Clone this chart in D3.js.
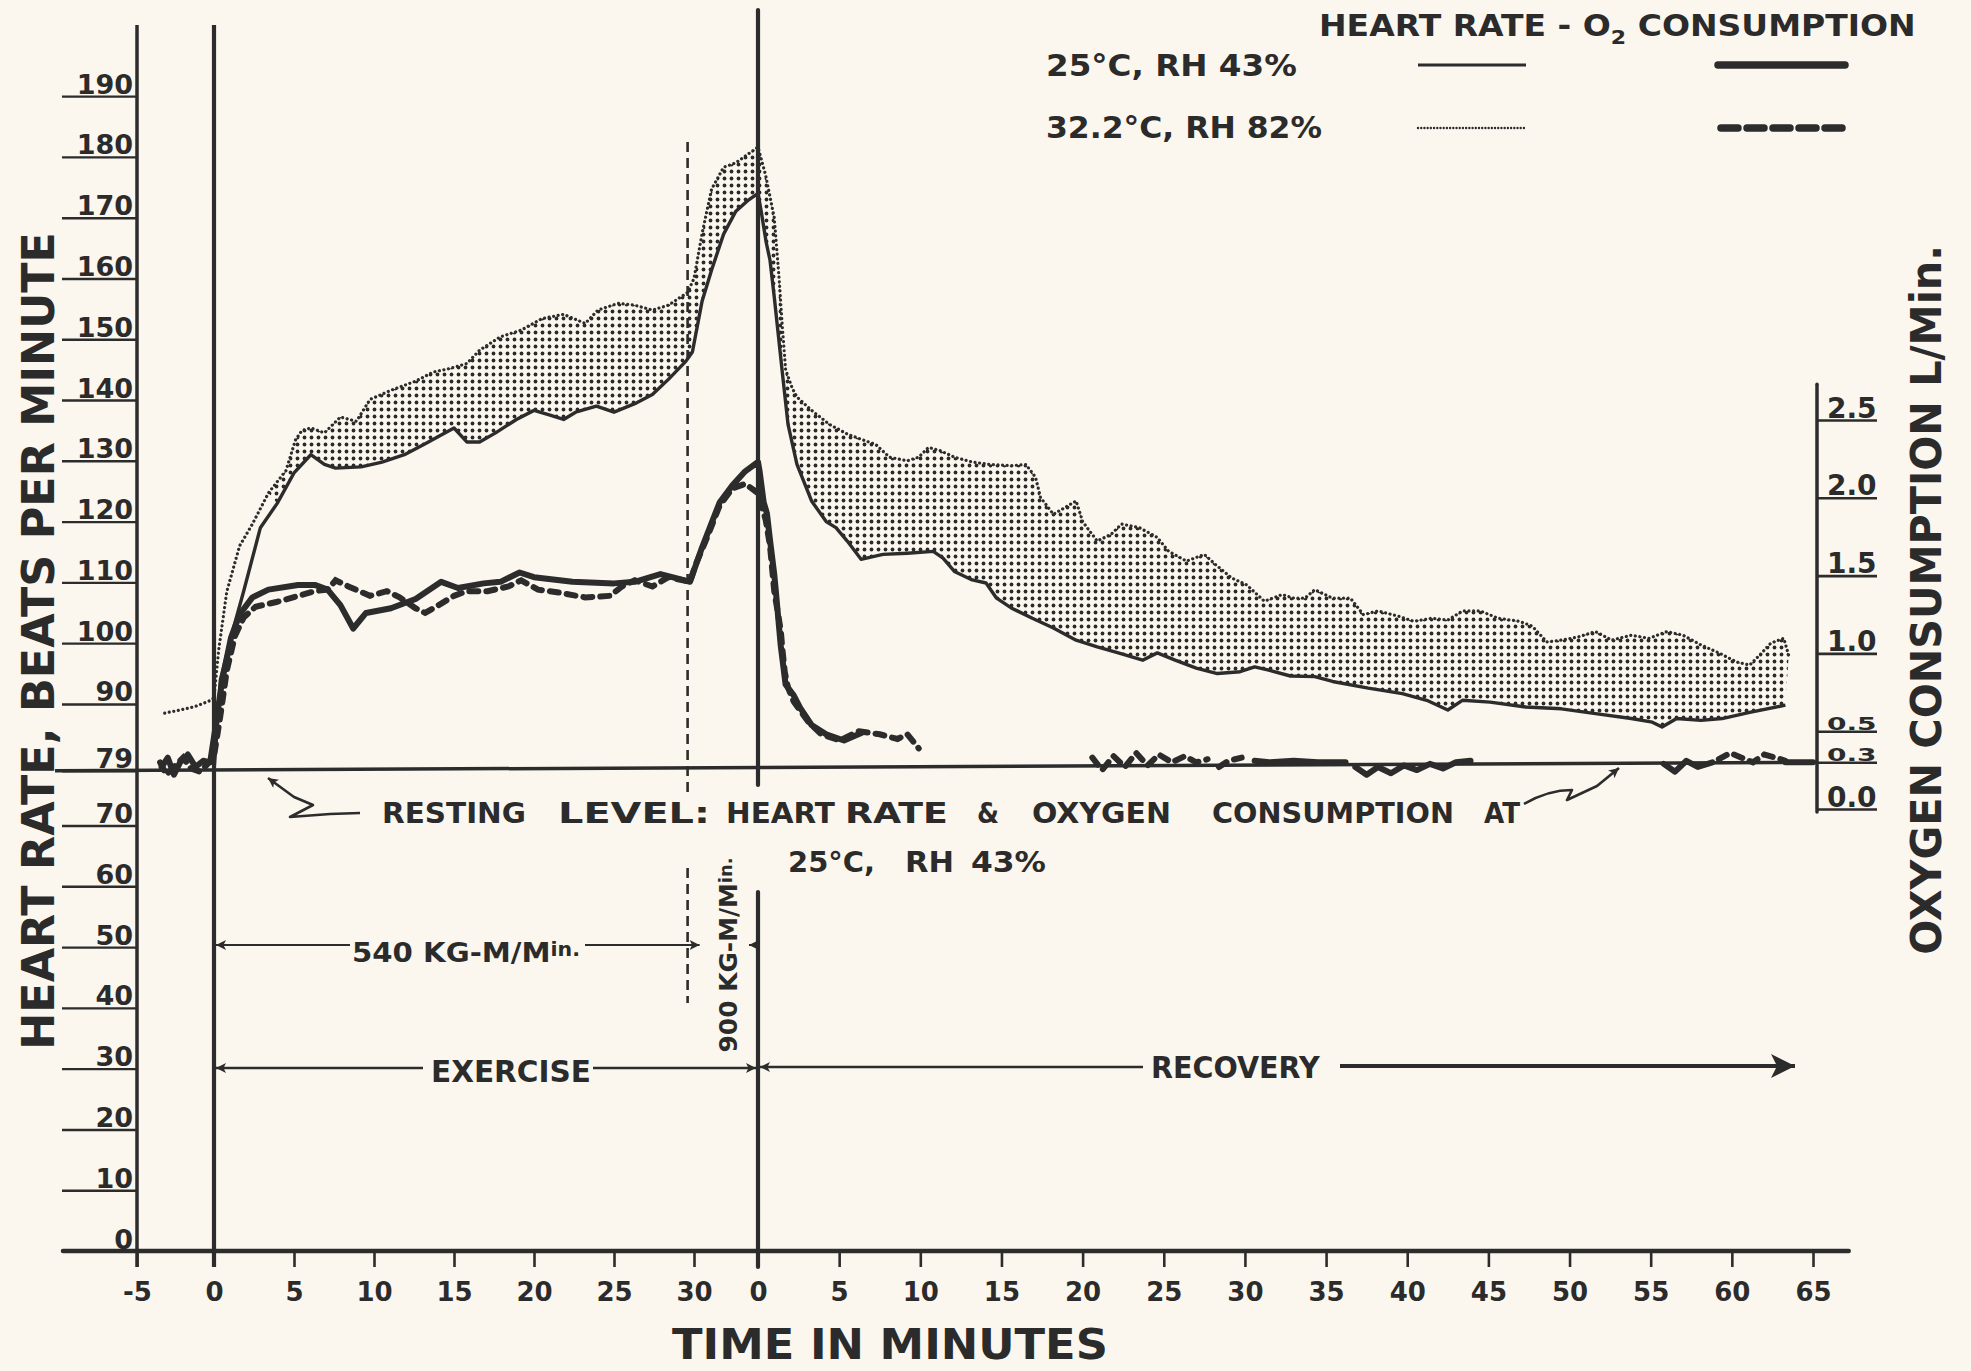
<!DOCTYPE html>
<html>
<head>
<meta charset="utf-8">
<script src="https://cdn.jsdelivr.net/npm/d3@7"></script>
<style>
  html, body { margin: 0; padding: 0; background: #fbf7ee; }
  svg { display: block; }
  text { fill: #2b2b2b; font-family: "DejaVu Sans", "Liberation Sans", sans-serif; font-weight: bold; }
</style>
</head>
<body>
<svg id="chart" width="1971" height="1371"></svg>
<script>
// ---- time layout: exercise minutes run 0..34, recovery minute r sits at 34 + r ----
const REC0 = 34;          // start of recovery on the elapsed-time scale
const LOAD_CHANGE = 29.6; // switch from 540 to 900 KG-M/Min.

// ---- tick values ----
const hrTicks = [0, 10, 20, 30, 40, 50, 60, 70, 79, 90, 100, 110, 120, 130, 140, 150, 160, 170, 180, 190];
const o2Ticks = [0, 0.3, 0.5, 1.0, 1.5, 2.0, 2.5];
const exerciseTicks = [-5, 0, 5, 10, 15, 20, 25, 30];
const recoveryTicks = [0, 5, 10, 15, 20, 25, 30, 35, 40, 45, 50, 55, 60, 65];

// ---- heart rate, 25°C RH 43% (beats/min) : [minute, value] ----
const hr25Exercise = [[0,79],[0.2,86],[0.4,94],[1.06,101],[1.85,108.5],[2.9,119],[3.95,123],[5,128],[6.05,131],[6.9,129.4],[7.6,128.8],[9.2,129],[10.5,129.8],[11.9,131],[13.2,132.8],[15,135.4],[15.8,133.1],[16.6,133.1],[17.6,134.6],[18.9,136.8],[20,138.3],[21,137.5],[21.85,136.8],[22.6,138],[23.9,139],[25,138],[26.3,139.4],[27.4,140.9],[28.4,143.4],[29.5,146.4],[29.9,147.9],[30.5,156.2],[31.1,161.4],[31.85,167.3],[32.6,171],[33.4,172.9],[34,174]];
const hr25Recovery = [[0,174],[0.2,171],[0.5,166],[0.74,163],[1.0,157],[1.2,152],[1.5,144.5],[1.85,136],[2.4,129.4],[3.3,123.4],[4.2,120],[4.8,119],[5.5,116.8],[6.35,113.8],[7.7,114.6],[9.2,114.8],[10.8,115.1],[11.4,114],[12.1,111.8],[13.2,110.4],[14.05,109.9],[14.7,107.4],[15.6,105.8],[16.9,104.1],[18.2,102.5],[19.6,100.5],[20.9,99.4],[22.2,98.4],[23.7,97.2],[24.6,98.4],[25.7,97.2],[27,95.9],[28.3,95],[29.7,95.3],[30.6,96.1],[31.4,95.6],[32.8,94.6],[34.3,94.5],[35.4,93.7],[37.6,92.6],[39.7,91.7],[41.2,90.6],[42.5,89],[43.4,90.6],[45.1,90.3],[47.3,89.5],[49.5,89.2],[51.6,88.4],[53.8,87.6],[55.1,87],[55.7,86.2],[56.6,87.6],[58.1,87.3],[59.4,87.6],[61.1,88.6],[63.3,89.8]];

// ---- heart rate, 32.2°C RH 82% ----
const hr32Exercise = [[-3.2,88.5],[-2.2,89],[-1.2,89.6],[-0.3,90.5],[0,91],[0.15,95],[0.3,99],[0.8,108.5],[1.6,116],[2.4,119.6],[3.4,124.7],[4.5,128.4],[5.1,133.5],[5.5,135],[6.06,135.4],[6.9,134.6],[7.9,137.2],[8.9,136.5],[9.75,140.1],[11.06,141.6],[12.6,143.1],[13.7,144.6],[14.75,145.2],[15.8,146],[16.6,148.2],[17.9,150.4],[19.2,151.5],[20.5,153.4],[21.85,154.1],[23.2,152.6],[24,154.8],[25.25,155.9],[26.3,155.6],[27.4,154.8],[28.4,155.6],[29.6,157.7],[30,160],[30.5,167.3],[31.1,174.7],[31.85,178.3],[32.6,179],[33.4,180.5],[34,181.6]];
const hr32Recovery = [[0,181.6],[0.47,177],[1.0,170],[1.3,160],[1.5,152],[1.7,145],[2.1,142],[2.4,140.5],[3.3,138.3],[4.4,136],[5.5,134.4],[6.6,133.3],[7.25,132.7],[8.1,130.6],[9.2,130],[9.9,130.6],[10.5,132.2],[11.2,131.7],[12.1,130.6],[13.2,129.8],[14.3,129.4],[15.6,129.2],[16.5,129.4],[17.1,127.3],[17.4,124],[18.2,121.2],[18.9,122.3],[19.6,123.4],[20,120],[20.9,116.8],[21.75,117.9],[22.4,119.6],[23.5,119],[24.6,117.4],[25.3,115.1],[26.4,113.5],[27.5,114.6],[28.2,112.9],[29.2,110.7],[30.1,109.6],[31.2,106.9],[32.3,108],[33,107.4],[33.7,107.4],[34.3,108.8],[35.4,107.4],[36.5,107.4],[37.3,104.7],[38.2,105.3],[39.5,104.4],[40.4,103.6],[41.5,104.1],[42.5,103.8],[43.4,105.3],[44.5,105.3],[45.6,104.1],[46.9,103.6],[47.7,102.8],[48.6,100.2],[49.5,100.5],[50.5,101],[51.6,101.9],[52.6,100.5],[53.8,101.3],[54.9,100.8],[56,101.9],[57,101.3],[58.1,99.7],[59.2,98.4],[60.3,96.9],[61.1,96.4],[61.7,98],[62.4,100],[63.2,100.8],[63.5,98]];

// ---- oxygen consumption, 25°C RH 43% (L/min) ----
const o2_25Exercise = [[-3.4,0.27],[-3.0,0.33],[-2.6,0.22],[-2.2,0.30],[-1.7,0.35],[-1.2,0.27],[-0.7,0.31],[-0.25,0.30],[0.1,0.53],[0.5,0.82],[1.06,1.10],[1.6,1.25],[2.4,1.36],[3.4,1.41],[5.25,1.44],[6.3,1.44],[7.1,1.41],[7.9,1.31],[8.7,1.16],[9.5,1.26],[11.06,1.29],[12.6,1.35],[14.2,1.46],[15.25,1.42],[16.85,1.45],[17.9,1.46],[19.1,1.52],[20,1.49],[22.4,1.46],[25,1.45],[26.3,1.46],[27.9,1.51],[29,1.48],[29.75,1.46],[30.5,1.68],[31.6,1.97],[32.4,2.08],[33.2,2.17],[34,2.23]];
const o2_25Recovery = [[0.1,2.17],[0.35,1.97],[0.55,1.90],[0.75,1.72],[1.0,1.51],[1.1,1.40],[1.4,1.05],[1.7,0.80],[2.2,0.73],[2.6,0.65],[3.3,0.54],[4.2,0.48],[5.3,0.44],[6.4,0.49]];
const o2_25Late = [
  [[30.6,0.31],[31.5,0.30],[33,0.31],[34.5,0.30],[36.2,0.30]],
  [[36.8,0.27],[37.5,0.22],[38.2,0.27],[39,0.23],[39.8,0.28],[40.6,0.25],[41.4,0.29],[42.2,0.26],[43,0.30],[43.9,0.31]],
  [[55.8,0.29],[56.5,0.24],[57.2,0.31],[57.9,0.27],[58.8,0.30]],
  [[63.3,0.30],[65,0.30]]
];

// ---- oxygen consumption, 32.2°C RH 82% ----
const o2_32Exercise = [[-3.5,0.30],[-3.1,0.22],[-2.6,0.27],[-2.0,0.33],[-1.5,0.26],[-0.9,0.24],[-0.4,0.29],[0,0.34],[0.4,0.60],[0.8,0.89],[1.3,1.11],[1.85,1.23],[2.6,1.30],[3.9,1.33],[5.3,1.37],[6.3,1.40],[7.1,1.41],[7.6,1.47],[8.4,1.43],[9.75,1.37],[10.8,1.40],[11.6,1.36],[12.6,1.29],[13.2,1.26],[14.2,1.32],[15,1.37],[15.8,1.40],[17.1,1.40],[18.4,1.43],[19.2,1.47],[20.25,1.41],[21.6,1.39],[23.2,1.36],[24.75,1.37],[25.5,1.43],[26.3,1.47],[27.4,1.43],[28.4,1.49],[29.75,1.46],[30.1,1.57],[30.8,1.74],[31.6,1.95],[32.4,2.06],[33.2,2.09],[34,2.03]];
const o2_32Recovery = [[0.47,1.86],[0.74,1.69],[1.0,1.40],[1.4,1.15],[1.5,1.03],[1.65,0.88],[1.85,0.78],[2.2,0.69],[3.1,0.56],[3.9,0.48],[5.05,0.44],[6.2,0.50],[7.5,0.48],[8.6,0.45],[9.2,0.48],[9.9,0.39]];
const o2_32Late = [
  [[20.6,0.33],[21.2,0.25],[21.9,0.34],[22.6,0.27],[23.3,0.36],[24.0,0.28],[24.7,0.35],[25.5,0.30],[26.3,0.34],[27.0,0.30],[27.7,0.32]],
  [[28.4,0.27],[29.0,0.31],[29.8,0.33]],
  [[59.2,0.32],[59.9,0.36],[60.6,0.33],[61.3,0.30],[62.0,0.35],[62.7,0.33],[63.3,0.31]]
];

// ---- scales ----
const x = d3.scaleLinear().domain([-5, 0, REC0, REC0 + 65]).range([137, 214, 758, 1813]);
const yHR = d3.scaleLinear().domain([0, 201.7]).range([1251, 25]);
const yO2 = d3.scaleLinear().domain([0, 2.5]).range([809, 420]);

const ink = "#2c2c2c";
const svg = d3.select("#chart");
svg.append("rect").attr("width", 1971).attr("height", 1371).attr("fill", "#fbf7ee");

// ---- defs: stipple and arrowheads ----
const defs = svg.append("defs");
const pat = defs.append("pattern").attr("id", "stipple").attr("patternUnits", "userSpaceOnUse")
  .attr("width", 7).attr("height", 7);
pat.append("circle").attr("cx", 3.5).attr("cy", 3.5).attr("r", 1.9).attr("fill", "#2a2a2a");

function marker(id, w, h) {
  defs.append("marker").attr("id", id).attr("viewBox", "0 0 10 10").attr("refX", 10).attr("refY", 5)
    .attr("markerWidth", w).attr("markerHeight", h).attr("markerUnits", "userSpaceOnUse")
    .attr("orient", "auto-start-reverse")
    .append("path").attr("d", "M0,0 L10,5 L0,10 L2.5,5 Z").attr("fill", ink);
}
marker("head", 14, 10);
marker("bighead", 34, 24);

const ex = d => ({ t: d[0], v: d[1] });
const rec = d => ({ t: REC0 + d[0], v: d[1] });

// ---- stippled band between the two heart-rate curves ----
const bandUpper = hr32Exercise.filter(d => d[0] >= 3.4).map(ex).concat(hr32Recovery.map(rec));
const bandLower = hr25Exercise.filter(d => d[0] >= 3.95).map(ex).concat(hr25Recovery.map(rec));
const hrLine = d3.line().x(d => x(d.t)).y(d => yHR(d.v));
svg.append("path")
  .attr("d", hrLine(bandUpper.concat(bandLower.slice().reverse())) + "Z")
  .attr("fill", "url(#stipple)");

// ---- heart-rate curves ----
svg.append("path").attr("d", hrLine(hr25Exercise.map(ex).concat(hr25Recovery.map(rec))))
  .attr("fill", "none").attr("stroke", ink).attr("stroke-width", 3.4).attr("stroke-linejoin", "round");
svg.append("path").attr("d", hrLine(hr32Exercise.map(ex).concat(hr32Recovery.map(rec))))
  .attr("fill", "none").attr("stroke", ink).attr("stroke-width", 3.2)
  .attr("stroke-dasharray", "0.01 4.6").attr("stroke-linecap", "round");

// ---- oxygen curves ----
const o2Line = d3.line().x(d => x(d.t)).y(d => yO2(d.v));
const solidO2 = p => svg.append("path").attr("d", o2Line(p)).attr("fill", "none").attr("stroke", ink)
  .attr("stroke-width", 6).attr("stroke-linejoin", "round").attr("stroke-linecap", "round");
const dashedO2 = p => svg.append("path").attr("d", o2Line(p)).attr("fill", "none").attr("stroke", ink)
  .attr("stroke-width", 6).attr("stroke-dasharray", "9 8").attr("stroke-linecap", "round");

solidO2(o2_25Exercise.map(ex).concat(o2_25Recovery.map(rec)));
o2_25Late.forEach(s => solidO2(s.map(rec)));
dashedO2(o2_32Exercise.map(ex).concat(o2_32Recovery.map(rec)));
o2_32Late.forEach(s => dashedO2(s.map(rec)));

// ---- resting level baseline (79 beats/min, 0.3 L/min) ----
svg.append("line").attr("x1", x(-5) - 82).attr("y1", yHR(79)).attr("x2", x(REC0 + 65) + 4).attr("y2", yO2(0.3))
  .attr("stroke", ink).attr("stroke-width", 3.5);

// ---- left axis (heart rate) ----
const left = svg.append("g").attr("transform", `translate(${x(-5)},0)`)
  .call(d3.axisLeft(yHR).tickValues(hrTicks).tickSizeInner(75).tickSizeOuter(0));
left.select(".domain").remove();
left.selectAll(".tick line").attr("stroke", ink).attr("stroke-width", 2.4);
left.selectAll(".tick text").attr("x", -4).attr("dy", -3).attr("font-size", 27)
  .attr("font-family", "DejaVu Sans").attr("font-weight", "bold").attr("fill", ink);
svg.append("line").attr("x1", x(-5)).attr("x2", x(-5)).attr("y1", yHR(201.7)).attr("y2", yHR(0) + 16)
  .attr("stroke", ink).attr("stroke-width", 3.5);

// ---- bottom axis (time) ----
const timeTicks = exerciseTicks.concat(recoveryTicks.map(r => REC0 + r));
const bottom = svg.append("g").attr("transform", `translate(0,${yHR(0)})`)
  .call(d3.axisBottom(x).tickValues(timeTicks).tickFormat(v => v >= REC0 ? v - REC0 : v)
    .tickSizeInner(16).tickSizeOuter(0).tickPadding(16));
bottom.select(".domain").remove();
bottom.selectAll(".tick line").attr("stroke", ink).attr("stroke-width", 2.6);
bottom.selectAll(".tick text").attr("font-size", 26).attr("font-family", "DejaVu Sans")
  .attr("font-weight", "bold").attr("fill", ink);
svg.append("line").attr("x1", x(-5) - 74).attr("x2", x(REC0 + 67.2)).attr("y1", yHR(0)).attr("y2", yHR(0))
  .attr("stroke", ink).attr("stroke-width", 4.5).attr("stroke-linecap", "round");

// ---- right axis (oxygen) ----
const axisX = x(REC0 + 65) + 4;
const right = svg.append("g").attr("transform", `translate(${axisX},0)`)
  .call(d3.axisRight(yO2).tickValues(o2Ticks).tickFormat(d3.format(".1f")).tickSizeInner(60).tickSizeOuter(0));
right.select(".domain").remove();
right.selectAll(".tick line").attr("stroke", ink).attr("stroke-width", 2.6);
right.selectAll(".tick text").attr("x", 10).attr("dy", -3).attr("font-size", 28)
  .attr("font-family", "DejaVu Sans").attr("font-weight", "bold").attr("fill", ink);
// the two crowded labels near the resting level are lettered squat
right.selectAll(".tick").filter(d => d === 0.3 || d === 0.5).select("text")
  .attr("transform", "scale(1,0.62)");
svg.append("line").attr("x1", axisX).attr("x2", axisX).attr("y1", yO2(2.73)).attr("y2", yO2(-0.02))
  .attr("stroke", ink).attr("stroke-width", 3.5).attr("stroke-linecap", "round");

// ---- phase markers ----
svg.append("line").attr("x1", x(0)).attr("x2", x(0)).attr("y1", yHR(201.7)).attr("y2", yHR(0) + 16)
  .attr("stroke", ink).attr("stroke-width", 4.2);
svg.append("line").attr("x1", x(REC0)).attr("x2", x(REC0)).attr("y1", 10).attr("y2", 785)
  .attr("stroke", ink).attr("stroke-width", 4.2).attr("stroke-linecap", "round");
svg.append("line").attr("x1", x(REC0)).attr("x2", x(REC0)).attr("y1", 892).attr("y2", yHR(0) + 16)
  .attr("stroke", ink).attr("stroke-width", 4.2).attr("stroke-linecap", "round");
[[142, 795], [868, 1003]].forEach(([a, b]) =>
  svg.append("line").attr("x1", x(LOAD_CHANGE)).attr("x2", x(LOAD_CHANGE)).attr("y1", a).attr("y2", b)
    .attr("stroke", ink).attr("stroke-width", 2.6).attr("stroke-dasharray", "10 6"));

// ---- text helper: baseline at (x0,y0), optional fitted width and rotation ----
function label(str, x0, y0, o = {}) {
  const g = svg.append("g").attr("transform", `translate(${x0},${y0})` + (o.rotate ? ` rotate(${o.rotate})` : ""));
  const t = g.append("text").attr("font-size", o.size || 28).attr("text-anchor", o.anchor || "start");
  if (typeof str === "string") t.text(str); else str(t);
  if (o.width) {
    const w = t.node().getBBox().width;
    t.attr("transform", `scale(${o.width / w},1)`);
  }
  return t;
}

// axis titles
label("HEART RATE, BEATS PER MINUTE", 54, 641, { size: 44, anchor: "middle", rotate: -90, width: 818 });
label("OXYGEN CONSUMPTION L/Min.", 1941, 600, { size: 42, anchor: "middle", rotate: -90, width: 710 });
label("TIME IN MINUTES", 890, 1359, { size: 43, anchor: "middle", width: 436 });

// legend
label(t => {
  t.append("tspan").text("HEART RATE - O");
  t.append("tspan").attr("font-size", 20).attr("dy", 8).text("2");
  t.append("tspan").attr("dy", -8).text(" CONSUMPTION");
}, 1319, 36, { size: 30, width: 597 });
label("25°C, RH 43%", 1046, 76, { size: 30, width: 251 });
label("32.2°C, RH 82%", 1046, 138, { size: 30, width: 276 });
svg.append("line").attr("x1", 1418).attr("x2", 1526).attr("y1", 65).attr("y2", 65)
  .attr("stroke", ink).attr("stroke-width", 2.8);
svg.append("line").attr("x1", 1718).attr("x2", 1845).attr("y1", 65).attr("y2", 65)
  .attr("stroke", ink).attr("stroke-width", 7.5).attr("stroke-linecap", "round");
svg.append("line").attr("x1", 1418).attr("x2", 1526).attr("y1", 128).attr("y2", 128)
  .attr("stroke", ink).attr("stroke-width", 2.4).attr("stroke-dasharray", "0.01 3.2").attr("stroke-linecap", "round");
svg.append("line").attr("x1", 1721).attr("x2", 1842).attr("y1", 128).attr("y2", 128)
  .attr("stroke", ink).attr("stroke-width", 7.5).attr("stroke-dasharray", "17 9").attr("stroke-linecap", "round");

// resting-level note
[["RESTING", 382, 526], ["LEVEL:", 558, 710], ["HEART", 726, 835], ["RATE", 845, 948], ["&", 977, 999],
 ["OXYGEN", 1032, 1171], ["CONSUMPTION", 1212, 1454], ["AT", 1484, 1520]]
  .forEach(([w, a, b]) => label(w, a, 823, { size: 28, width: b - a }));
[["25°C,", 788, 875], ["RH", 905, 954], ["43%", 971, 1046]]
  .forEach(([w, a, b]) => label(w, a, 872, { size: 28, width: b - a }));

const note = (d, end) => svg.append("path").attr("d", d).attr("fill", "none").attr("stroke", ink)
  .attr("stroke-width", 2.6).attr("stroke-linejoin", "round").attr("marker-end", end ? "url(#head)" : null);
note("M360,813 L330,814 L290,817 L313,805 L294,797 L268,778", true);
note("M1524,804 Q1548,790 1572,790 L1567,800 L1597,786 L1619,768", true);

// work-load labels
label(t => {
  t.append("tspan").text("540 KG-M/M");
  t.append("tspan").attr("font-size", 19).attr("dy", -6).text("in.");
}, 352, 962, { size: 27, width: 228 });
svg.append("line").attr("x1", 350).attr("x2", x(0) + 2).attr("y1", 945).attr("y2", 945)
  .attr("stroke", ink).attr("stroke-width", 2.2).attr("marker-end", "url(#head)");
svg.append("line").attr("x1", 585).attr("x2", x(LOAD_CHANGE) + 12).attr("y1", 945).attr("y2", 945)
  .attr("stroke", ink).attr("stroke-width", 2.2).attr("marker-end", "url(#head)");
svg.append("line").attr("x1", x(REC0) - 2).attr("x2", x(REC0) - 9).attr("y1", 945).attr("y2", 945)
  .attr("stroke", ink).attr("stroke-width", 2).attr("marker-end", "url(#head)");
label(t => {
  t.append("tspan").text("900 KG-M/M");
  t.append("tspan").attr("font-size", 18).attr("dy", -5).text("in.");
}, 737, 955, { size: 25, anchor: "middle", rotate: -90, width: 195 });

// phase arrows
label("EXERCISE", 431, 1082, { size: 30, width: 160 });
svg.append("line").attr("x1", 423).attr("x2", x(0) + 2).attr("y1", 1068).attr("y2", 1068)
  .attr("stroke", ink).attr("stroke-width", 2.4).attr("marker-end", "url(#head)");
svg.append("line").attr("x1", 593).attr("x2", x(REC0) - 2).attr("y1", 1068).attr("y2", 1068)
  .attr("stroke", ink).attr("stroke-width", 2.4).attr("marker-end", "url(#head)");
label("RECOVERY", 1151, 1078, { size: 30, width: 170 });
svg.append("line").attr("x1", 1143).attr("x2", x(REC0) + 2).attr("y1", 1067).attr("y2", 1067)
  .attr("stroke", ink).attr("stroke-width", 2.4).attr("marker-end", "url(#head)");
svg.append("line").attr("x1", 1340).attr("x2", 1795).attr("y1", 1066).attr("y2", 1066)
  .attr("stroke", ink).attr("stroke-width", 4).attr("marker-end", "url(#bighead)");
</script>
</body>
</html>
